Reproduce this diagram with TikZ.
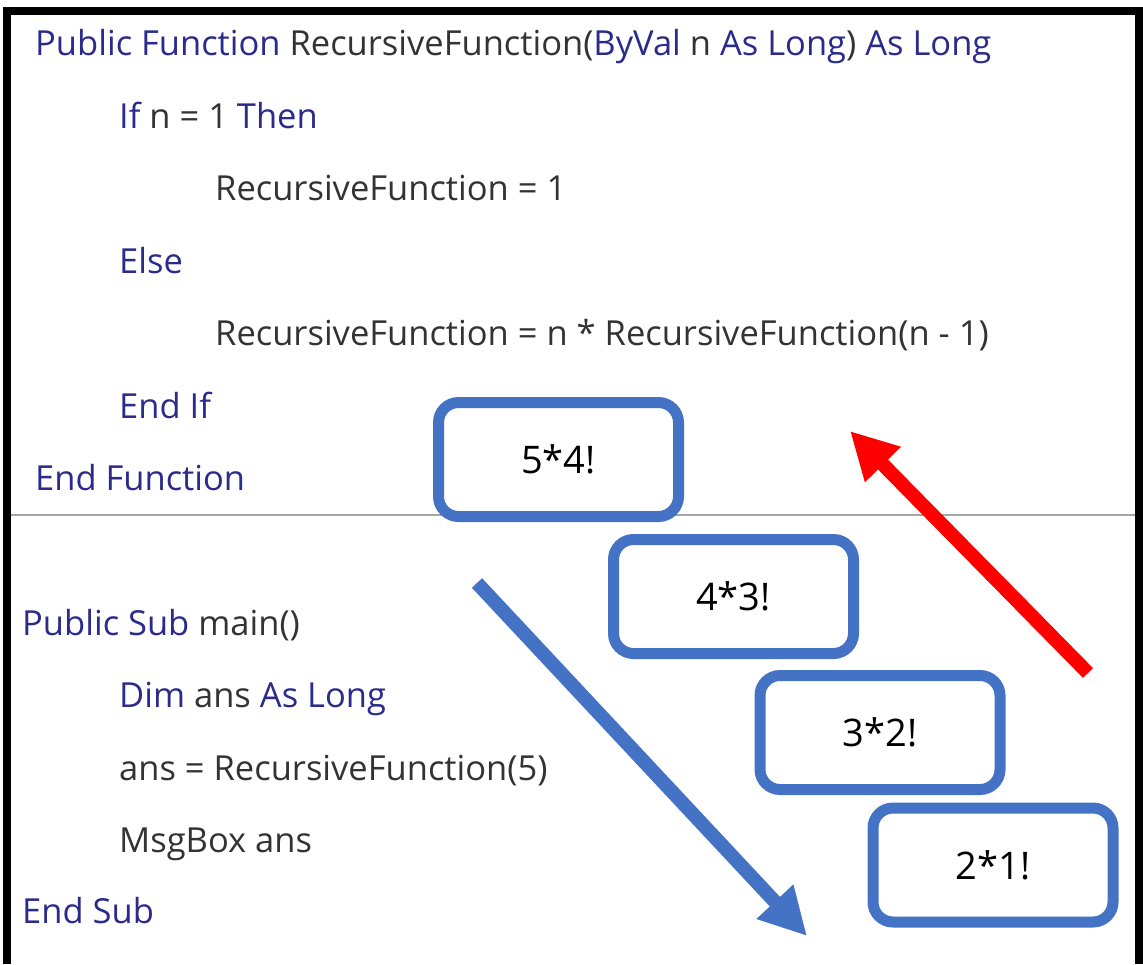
\documentclass[tikz,border=0pt]{standalone}
\usepackage{fontspec}
\setmainfont{Open Sans}
\usetikzlibrary{arrows.meta}
\definecolor{kw}{HTML}{2B2B8C}
\definecolor{txt}{HTML}{333333}
\definecolor{boxblue}{HTML}{4472C4}
\definecolor{sep}{HTML}{A6A6A6}
\definecolor{upred}{HTML}{FF0000}
\newcommand{\kw}[1]{\textcolor{kw}{#1}}
\begin{document}
\begin{tikzpicture}[x=1pt,y=-1pt,
  code/.style={anchor=base west, inner sep=0pt, text=txt,
               font=\fontsize{34.5}{40}\selectfont},
  stepbox/.style={draw=boxblue, line width=11pt, rounded corners=20pt,
                  fill=white, minimum width=240pt, minimum height=114pt,
                  inner sep=0pt, font=\fontsize{38}{44}\selectfont},
  flow/.style={line width=14pt, draw=#1,
               -{Triangle[length=47pt,width=47pt]}}
  ]
\useasboundingbox (0,0) rectangle (1143,964);
\fill[white] (0,0) rectangle (1143,964);

% frame and separator
\draw[line width=8pt, line join=miter] (7,964) -- (7,11) -- (1139,11) -- (1139,964);
\draw[sep, line width=2pt] (11,515) -- (1135,515);

% function listing
\node[code] (f1) at (35,55) {\kw{Public Function} RecursiveFunction(\kw{ByVal} n \kw{As Long}) \kw{As Long}};
\node[code] (f2) at (119,128) {\kw{If} n = 1 \kw{Then}};
\node[code] (f3) at (215,200) {RecursiveFunction = 1};
\node[code] (f4) at (119,273) {\kw{Else}};
\node[code] (f5) at (215,345) {RecursiveFunction = n * RecursiveFunction(n - 1)};
\node[code] (f6) at (119,418) {\kw{End If}};
\node[code] (f7) at (35,490) {\kw{End Function}};

% main listing
\node[code] (m1) at (22,635) {\kw{Public Sub} main()};
\node[code] (m2) at (119,707) {\kw{Dim} ans \kw{As Long}};
\node[code] (m3) at (119,780) {ans = RecursiveFunction(5)};
\node[code] (m4) at (119,852) {MsgBox ans};
\node[code] (m5) at (22,923) {\kw{End Sub}};

% call stack boxes
\node[stepbox] (b5) at (558.5,459.5) {5*4!};
\node[stepbox] (b4) at (733.5,596.5) {4*3!};
\node[stepbox] (b3) at (880,732.5) {3*2!};
\node[stepbox] (b2) at (993,865) {2*1!};

% descent and return arrows
\coordinate (downA) at (477,583);
\coordinate (downB) at (807,936);
\coordinate (upA) at (1088,673);
\coordinate (upB) at (850,431);
\draw[flow=boxblue] (downA) -- (downB);
\draw[flow=upred] (upA) -- (upB);
\end{tikzpicture}
\end{document}
